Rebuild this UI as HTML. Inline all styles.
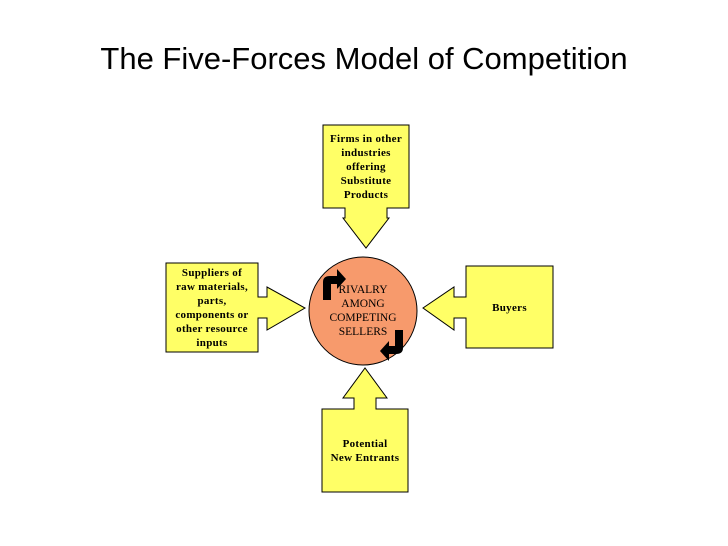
<!DOCTYPE html>
<html><head><style>
body{margin:0;width:728px;height:546px;background:#fff;overflow:hidden;position:relative;font-family:"Liberation Sans",Arial,sans-serif}
.t{position:absolute;left:0;width:728px;top:41px;text-align:center;font-size:31px;color:#000;white-space:nowrap}
.l{position:absolute;font-family:"Liberation Serif",serif;font-weight:bold;font-size:11px;text-align:center;line-height:14px;color:#000;letter-spacing:0.3px}
</style></head><body>
<div class="t">The Five-Forces Model of Competition</div>
<svg width="728" height="546" style="position:absolute;left:0;top:0">
<g fill="#ffff66" stroke="#000" stroke-width="1">
<path d="M323,125H409V208H387V218H389L366,248L343,218H345V208H323Z"/>
<path d="M166,263H258V297H267V287L305,308L267,330V318H258V352H166Z"/>
<path d="M466,266H553V348H466V318H454V330L423,308L454,287V297H466Z"/>
<path d="M322,492H408V409H376V398H387L365,368L343,398H354V409H322Z"/>
</g>
<circle cx="363" cy="311" r="54" fill="#f79a6c" stroke="#000" stroke-width="1"/>
<path d="M323,300V282Q323,276 330,276H337V269L346,279L337,289V284H331V300Z" fill="#000"/>
<path d="M403,330V348Q403,354 396,354H389V361L380,351L389,341V346H395V330Z" fill="#000"/>
</svg>
<div class="l" style="left:323px;top:132px;width:86px">Firms in other<br>industries<br>offering<br>Substitute<br>Products</div>
<div class="l" style="left:166px;top:266px;width:92px">Suppliers of<br>raw materials,<br>parts,<br>components or<br>other resource<br>inputs</div>
<div class="l" style="left:466px;top:301px;width:87px">Buyers</div>
<div class="l" style="left:322px;top:437px;width:86px">Potential<br>New Entrants</div>
<div class="l" style="left:320px;top:283px;width:86px;font-weight:normal;font-size:11.5px;letter-spacing:0">RIVALRY<br>AMONG<br>COMPETING<br>SELLERS</div>
</body></html>
